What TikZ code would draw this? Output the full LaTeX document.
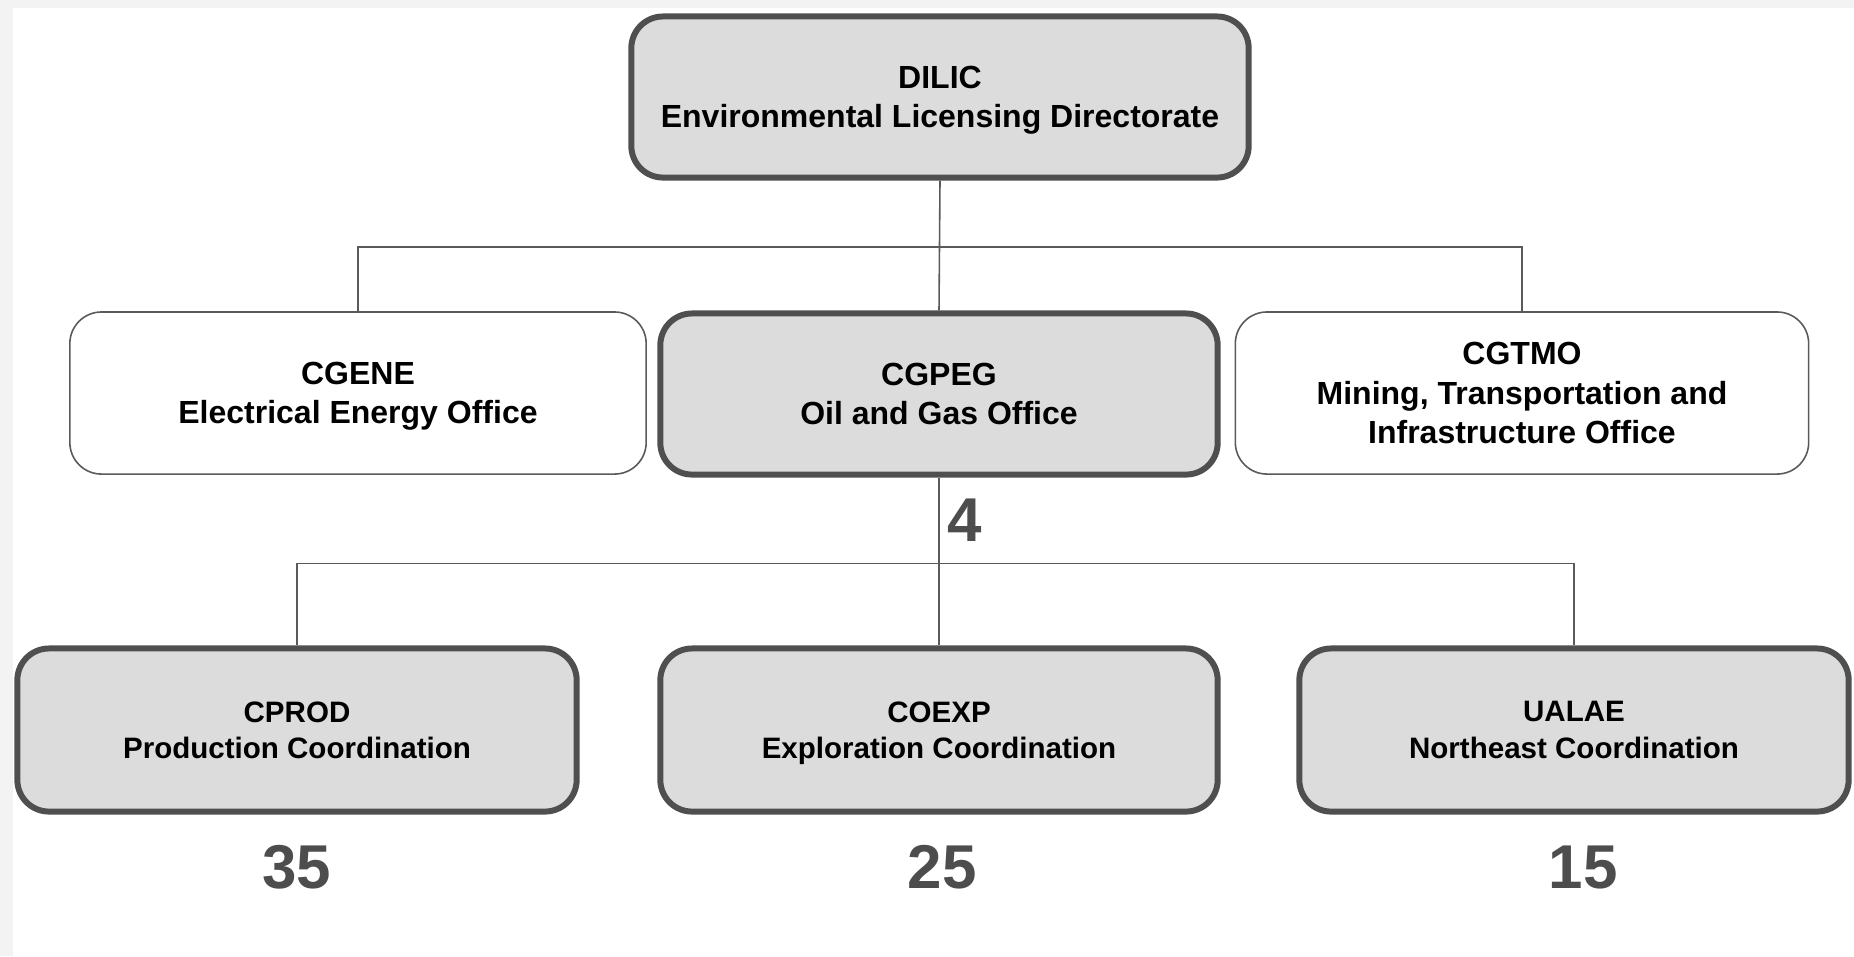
\documentclass[tikz,border=0pt]{standalone}
\usepackage{fontspec}
\setmainfont{Liberation Sans}
\definecolor{bggray}{HTML}{F3F3F3}
\definecolor{boxfill}{HTML}{DCDCDC}
\definecolor{rimgray}{HTML}{4F4F4F}
\definecolor{linkgray}{HTML}{5A5A5A}
\definecolor{numgray}{HTML}{4D4D4D}
\tikzset{
  unitbox/.style={rounded corners=9pt, align=center, inner sep=0pt, text depth=0pt,
    font=\fontsize{9.1}{11.2}\selectfont\bfseries},
  mainbox/.style={unitbox, draw=rimgray, line width=1.7pt, fill=boxfill},
  sidebox/.style={unitbox, draw=linkgray, line width=0.45pt, fill=white},
  lowbox/.style={mainbox, font=\fontsize{8.4}{10.4}\selectfont\bfseries},
  link/.style={draw=linkgray, line width=0.45pt},
  staff/.style={text=numgray, font=\fontsize{17.6}{20}\selectfont\bfseries, inner sep=0pt}
}
\begin{document}
\begin{tikzpicture}[x=0.01cm, y=-0.01cm]
% fundo
\useasboundingbox (0,0) rectangle (1854,956);
\fill[bggray] (0,0) rectangle (1854,956);
\fill[white] (13,8) rectangle (1854,956);

% diretoria
\node[mainbox, minimum width=6.17cm, minimum height=1.61cm] (dilic) at (940,97)
  {DILIC\\Environmental Licensing Directorate};

% coordenacoes gerais
\node[sidebox, minimum width=5.76cm, minimum height=1.62cm] (cgene) at (358,393)
  {CGENE\\Electrical Energy Office};
\node[mainbox, minimum width=5.57cm, minimum height=1.61cm] (cgpeg) at (939,394)
  {CGPEG\\Oil and Gas Office};
\node[sidebox, minimum width=5.73cm, minimum height=1.62cm] (cgtmo) at (1522,393)
  {CGTMO\\Mining, Transportation and\\Infrastructure Office};

% coordenacoes
\node[lowbox, minimum width=5.59cm, minimum height=1.63cm] (cprod) at (297,730)
  {CPROD\\Production Coordination};
\node[lowbox, minimum width=5.57cm, minimum height=1.63cm] (coexp) at (939,730)
  {COEXP\\Exploration Coordination};
\node[lowbox, minimum width=5.49cm, minimum height=1.63cm] (ualae) at (1574,730)
  {UALAE\\Northeast Coordination};

% ligacoes
\draw[link] (dilic.south) -- (cgpeg.north);
\draw[link] (cgene.north) -- ++(0,-64) -| (cgtmo.north);
\draw[link] (cgpeg.south) -- (coexp.north);
\draw[link] (cprod.north) -- ++(0,-82) -| (ualae.north);

% numero de servidores
\node[staff, anchor=west] (n4) at (947,520) {4};
\node[staff] (n35) at (297,867) {35};
\node[staff] (n25) at (942,867) {25};
\node[staff] (n15) at (1583,867) {15};
\end{tikzpicture}
\end{document}
